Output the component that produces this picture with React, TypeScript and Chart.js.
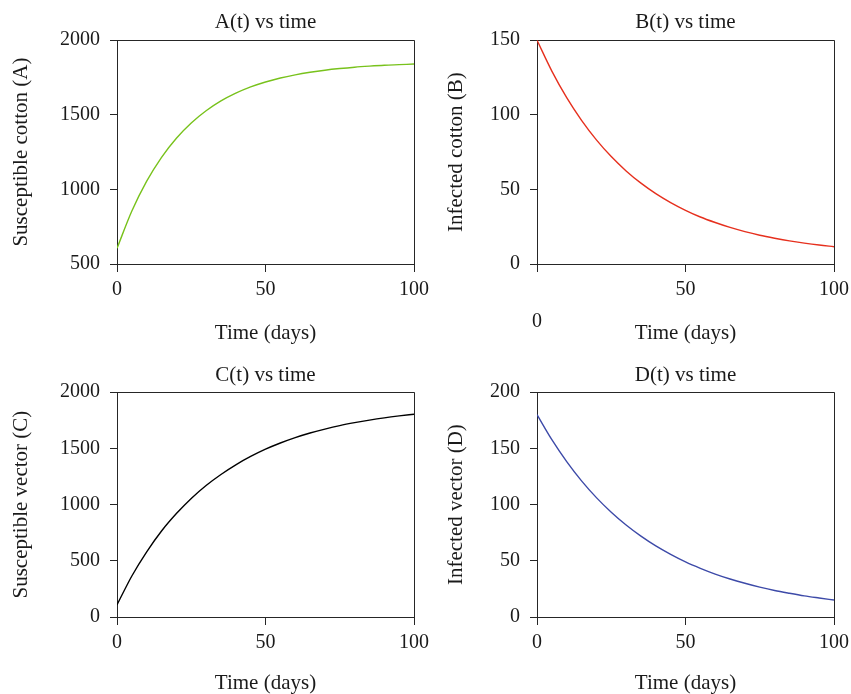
import React, { useEffect, useRef } from 'react';
import { Chart, registerables } from 'chart.js';

Chart.register(...registerables);

// ---- data ----
const days = [0, 5, 10, 15, 20, 25, 30, 35, 40, 45, 50, 55, 60, 65, 70, 75, 80, 85, 90, 95, 100];
const susceptibleCotton = [605, 855, 1055, 1215, 1343, 1445, 1527, 1593, 1645, 1687, 1720, 1747, 1768, 1785, 1799, 1810, 1819, 1826, 1832, 1836, 1840];
const infectedCotton = [150, 129.3, 111.5, 96.3, 83.2, 72.0, 62.4, 54.2, 47.2, 41.2, 36.0, 31.5, 27.8, 24.5, 21.7, 19.3, 17.3, 15.5, 14.0, 12.7, 11.6];
const susceptibleVector = [108, 365, 580, 765, 920, 1055, 1170, 1268, 1354, 1428, 1493, 1548, 1596, 1637, 1672, 1703, 1729, 1752, 1772, 1789, 1804];
const infectedVector = [180, 157.7, 138.2, 121.1, 106.2, 93.2, 81.8, 71.9, 63.2, 55.7, 49.0, 43.3, 38.2, 33.8, 30.0, 26.6, 23.6, 21.1, 18.8, 16.9, 15.1];

const xMin = 0;
const xMax = 100;
const xStep = 50;

const FONT = 'Liberation Serif';
const AXIS = '#262626';
const TEXT = '#1a1a1a';

type Panel = {
  key: string;
  left: number;
  top: number;
  width: number;
  height: number;
  title: string;
  yTitle: string;
  values: number[];
  color: string;
  yMin: number;
  yMax: number;
  yStep: number;
  yWidth: number;
  padRight: number;
  xHeight: number;
  titlePadTop: number;
  titlePadBottom: number;
  xTickPad: number;
  xTickLineHeight: number;
  xTitlePadBottom: number;
  yTitlePadTop: number;
  shiftedZero: boolean;
};

const panels: Panel[] = [
  {
    key: 'A', left: 0, top: 0, width: 430, height: 350,
    title: 'A(t) vs time', yTitle: 'Susceptible cotton (A)', values: susceptibleCotton, color: '#78c21c',
    yMin: 500, yMax: 2000, yStep: 500, yWidth: 117, padRight: 16, xHeight: 86,
    titlePadTop: 10, titlePadBottom: 5, xTickPad: 6, xTickLineHeight: 1.2, xTitlePadBottom: 4, yTitlePadTop: 9, shiftedZero: false,
  },
  {
    key: 'B', left: 430, top: 0, width: 421, height: 350,
    title: 'B(t) vs time', yTitle: 'Infected cotton (B)', values: infectedCotton, color: '#e6301e',
    yMin: 0, yMax: 150, yStep: 50, yWidth: 107, padRight: 17, xHeight: 86,
    titlePadTop: 10, titlePadBottom: 5, xTickPad: 2, xTickLineHeight: 1.6, xTitlePadBottom: 4, yTitlePadTop: 14, shiftedZero: true,
  },
  {
    key: 'C', left: 0, top: 352, width: 430, height: 342,
    title: 'C(t) vs time', yTitle: 'Susceptible vector (C)', values: susceptibleVector, color: '#000000',
    yMin: 0, yMax: 2000, yStep: 500, yWidth: 117, padRight: 16, xHeight: 77,
    titlePadTop: 11, titlePadBottom: 4, xTickPad: 6, xTickLineHeight: 1.2, xTitlePadBottom: -2, yTitlePadTop: 9, shiftedZero: false,
  },
  {
    key: 'D', left: 430, top: 352, width: 421, height: 342,
    title: 'D(t) vs time', yTitle: 'Infected vector (D)', values: infectedVector, color: '#3d4aa8',
    yMin: 0, yMax: 200, yStep: 50, yWidth: 107, padRight: 17, xHeight: 77,
    titlePadTop: 11, titlePadBottom: 4, xTickPad: 6, xTickLineHeight: 1.2, xTitlePadBottom: -2, yTitlePadTop: 14, shiftedZero: false,
  },
];

function clearPadding(s: any) {
  s.paddingLeft = 0;
  s.paddingRight = 0;
  s.paddingTop = 0;
  s.paddingBottom = 0;
}

function makeConfig(p: Panel): any {
  return {
    type: 'line',
    data: {
      datasets: [
        {
          data: days.map((d, i) => ({ x: d, y: p.values[i] })),
          borderColor: p.color,
          borderWidth: 1.4,
          pointRadius: 0,
          fill: false,
          cubicInterpolationMode: 'monotone',
        },
      ],
    },
    options: {
      responsive: false,
      animation: false,
      events: [],
      layout: { padding: { left: 0, right: p.padRight, top: 0, bottom: 0 } },
      plugins: {
        legend: { display: false },
        tooltip: { enabled: false },
        title: {
          display: true,
          text: p.title,
          fullSize: false,
          color: TEXT,
          font: { family: FONT, size: 21, weight: 'normal', lineHeight: 1.2 },
          padding: { top: p.titlePadTop, bottom: p.titlePadBottom },
        },
      },
      scales: {
        x: {
          type: 'linear',
          min: xMin,
          max: xMax,
          ticks: {
            stepSize: xStep,
            padding: p.xTickPad,
            color: TEXT,
            maxRotation: 0,
            autoSkip: false,
            font: { family: FONT, size: 20, lineHeight: p.xTickLineHeight },
            callback: (v: any) => (p.shiftedZero && Number(v) === 0 ? ['', String(v)] : String(v)),
          },
          grid: {
            color: (ctx: any) => (ctx.tick && ctx.tick.value === xMax ? AXIS : 'rgba(0,0,0,0)'),
            tickColor: AXIS,
            tickLength: 8,
            lineWidth: 1,
          },
          border: { display: true, color: AXIS, width: 1 },
          title: {
            display: true,
            text: 'Time (days)',
            color: TEXT,
            font: { family: FONT, size: 21, lineHeight: 1.2 },
            padding: { top: 0, bottom: p.xTitlePadBottom },
          },
          afterFit: (s: any) => {
            s.height = p.xHeight;
            clearPadding(s);
          },
        },
        y: {
          type: 'linear',
          min: p.yMin,
          max: p.yMax,
          ticks: {
            stepSize: p.yStep,
            padding: 10,
            color: TEXT,
            font: { family: FONT, size: 20 },
            callback: (v: any) => String(v),
          },
          grid: {
            color: (ctx: any) => (ctx.tick && ctx.tick.value === p.yMax ? AXIS : 'rgba(0,0,0,0)'),
            tickColor: AXIS,
            tickLength: 7,
            lineWidth: 1,
          },
          border: { display: true, color: AXIS, width: 1 },
          title: {
            display: true,
            text: p.yTitle,
            color: TEXT,
            font: { family: FONT, size: 21, lineHeight: 1.2 },
            padding: { top: p.yTitlePadTop, bottom: 0 },
          },
          afterFit: (s: any) => {
            s.width = p.yWidth;
            clearPadding(s);
          },
        },
      },
    },
  };
}

function PanelChart({ p }: { p: Panel }) {
  const ref = useRef<HTMLCanvasElement | null>(null);
  useEffect(() => {
    if (!ref.current) return;
    const chart = new Chart(ref.current, makeConfig(p));
    return () => chart.destroy();
  }, [p]);
  return (
    <canvas
      ref={ref}
      width={p.width}
      height={p.height}
      style={{ position: 'absolute', left: p.left, top: p.top, width: p.width, height: p.height }}
    />
  );
}

export default function App() {
  return (
    <div style={{ position: 'absolute', left: 0, top: 0, width: 851, height: 694, background: '#ffffff', overflow: 'hidden' }}>
      {panels.map((p) => (
        <PanelChart key={p.key} p={p} />
      ))}
    </div>
  );
}
